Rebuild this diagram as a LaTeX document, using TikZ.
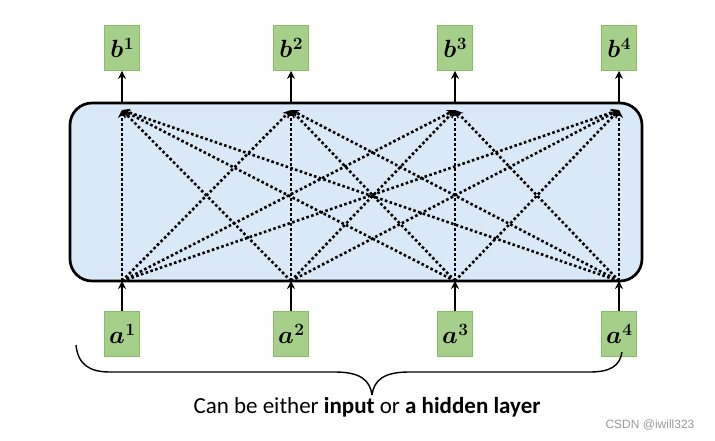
\documentclass[tikz,border=0pt]{standalone}
\usepackage{fontspec}
\usepackage{bm}
\setmainfont{Carlito}
\newfontfamily\wmfont{Liberation Sans}
\usetikzlibrary{arrows.meta}
\definecolor{boxfill}{RGB}{218,233,247}
\definecolor{gfill}{RGB}{166,207,138}
\definecolor{gdraw}{RGB}{135,188,105}
\newcommand{\lbl}[2]{$\bm{#1}$\kern0.5pt\raisebox{8pt}{\fontsize{16}{16}\selectfont$\bm{#2}$}}
\tikzset{
  gbox/.style={draw=gdraw, line width=0.8pt, fill=gfill, minimum width=35pt, minimum height=45pt, inner sep=0pt, font=\fontsize{24}{26}\selectfont},
  solidarr/.style={line width=2.2pt, -{Stealth[length=8pt,width=8pt]}},
  dotarr/.style={line width=2.6pt, dash pattern=on 2.6pt off 2.4pt, -{Stealth[length=8pt,width=8pt]}},
}
\begin{document}
\begin{tikzpicture}[x=1pt,y=-1pt]
\useasboundingbox (0,0) rectangle (715,441);
\node[draw, line width=2.7pt, fill=boxfill, rounded corners=22pt, minimum width=572pt, minimum height=178pt, inner sep=0pt] (box) at (356,192) {};
\foreach \i/\x in {1/122,2/291,3/455,4/619}{
  \coordinate (bot\i) at (\x,281);
  \coordinate (top\i) at (\x,103);
  \coordinate (tip\i) at (\x,110);
  \node[gbox] (b\i) at (\x,48) {\lbl{b}{\i}};
  \node[gbox] (a\i) at (\x,334) {\lbl{a}{\i}};
  \draw[solidarr] (a\i.north) -- (bot\i);
  \draw[solidarr] (top\i) -- (b\i.south);
}
\foreach \i in {1,2,3,4}{
  \foreach \j in {1,2,3,4}{
    \draw[dotarr] (bot\i) -- (tip\j);
  }
}
\coordinate (bl) at (76,345);
\coordinate (br) at (622,352);
\coordinate (bm) at (372,395);
\draw[line width=1.4pt] (bl) .. controls (78,365) and (90,372) .. (110,372) -- (335,372) .. controls (360,372) and (370,380) .. (bm);
\draw[line width=1.4pt] (br) .. controls (620,366) and (610,372) .. (590,372) -- (409,372) .. controls (384,372) and (374,380) .. (bm);
\node[font=\fontsize{23}{25}\selectfont, anchor=center] (cap) at (367,407) {Can be either \textbf{input} or \textbf{a hidden layer}};
\node[font=\wmfont\fontsize{12}{13}\selectfont, text=gray!80, anchor=center] (wm) at (650,425) {CSDN @iwill323};
\end{tikzpicture}
\end{document}
